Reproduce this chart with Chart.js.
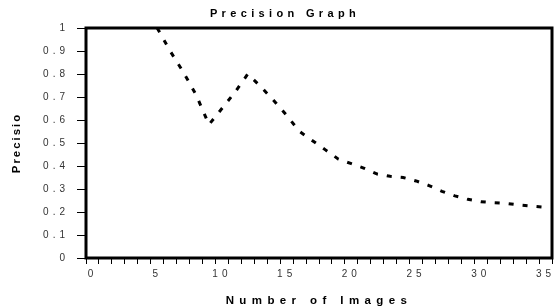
<!DOCTYPE html>
<html><head><meta charset="utf-8">
<script src="https://cdn.jsdelivr.net/npm/chart.js@4.4.0/dist/chart.umd.min.js"></script>
<style>html,body{margin:0;padding:0;background:#fff;}#c{display:block;}</style>
</head><body>
<canvas id="c" width="555" height="308"></canvas>
<script>
const categories = ["0","1","2","3","4","5","6","7","8","9","10","11","12","13","14","15","16","17","18","19","20","21","22","23","24","25","26","27","28","29","30","31","32","33","34","35"];
const precision = [null,null,null,null,null,1.0,0.90,0.81,0.71,0.58,0.65,0.72,0.80,0.745,0.685,0.62,0.55,0.51,0.47,0.43,0.41,0.39,0.365,0.355,0.35,0.335,0.315,0.29,0.27,0.255,0.245,0.24,0.237,0.23,0.225,0.22];
const xTickLabels = ["0","5","10","15","20","25","30","35"];
const yTickLabels = ["0","0.1","0.2","0.3","0.4","0.5","0.6","0.7","0.8","0.9","1"];

// letter spacing per font (mimics the spaced-out look of the original)
(function(){
  const P = CanvasRenderingContext2D.prototype;
  const spacingFor = f => {
    if (f.indexOf('11.5px') >= 0) return '5.4px';   // x-axis title
    if (f.indexOf('11.4px') >= 0) return '2px';     // y-axis title
    if (f.indexOf('bold') >= 0) return '4.35px';    // chart title
    return '4px';                                   // tick labels
  };
  const fT = P.fillText, mT = P.measureText;
  P.fillText = function(){ try{ this.letterSpacing = spacingFor(this.font); }catch(e){} return fT.apply(this, arguments); };
  P.measureText = function(){ try{ this.letterSpacing = spacingFor(this.font); }catch(e){} return mT.apply(this, arguments); };
})();

const FONT = "'Liberation Sans', Arial, sans-serif";

const framePlugin = {
  id: 'frame',
  afterDraw(chart){
    const {ctx, chartArea:a} = chart;
    ctx.save();
    ctx.strokeStyle = '#000';
    ctx.lineWidth = 3;
    ctx.strokeRect(a.left, a.top, a.right - a.left, a.bottom - a.top);
    ctx.restore();
  }
};

new Chart(document.getElementById('c'), {
  type: 'line',
  data: {
    labels: categories,
    datasets: [{
      data: precision,
      borderColor: '#000',
      borderWidth: 3,
      borderDash: [5, 9],
      borderCapStyle: 'butt',
      pointRadius: 0,
      tension: 0,
      fill: false,
      spanGaps: false
    }]
  },
  options: {
    responsive: false,
    animation: false,
    devicePixelRatio: 1,
    layout: { padding: { left: 18, right: 3, top: 0, bottom: 0 } },
    plugins: {
      legend: { display: false },
      tooltip: { enabled: false },
      title: {
        display: true,
        text: 'Precision Graph',
        color: '#000',
        font: { family: FONT, size: 11, weight: 'bold', lineHeight: 1.2 },
        padding: { top: 7, bottom: 7.8 }
      }
    },
    scales: {
      x: {
        type: 'category',
        offset: true,
        grid: { offset: true, drawOnChartArea: false, drawTicks: true, tickLength: 6, color: '#000', lineWidth: 1 },
        border: { display: false },
        ticks: {
          autoSkip: false, maxRotation: 0, minRotation: 0, padding: 4,
          color: '#333', font: { family: FONT, size: 10 },
          callback: function(v, i){ const c = categories[i]; return xTickLabels.includes(c) ? c : ''; }
        },
        title: {
          display: true, text: 'Number of Images', color: '#000',
          font: { family: FONT, size: 11.5, weight: 'bold', lineHeight: 1.2 },
          padding: { top: 0, bottom: 0 }
        },
        afterFit: s => { s.height = 50; s.paddingLeft = 0; s.paddingRight = 0; }
      },
      y: {
        min: 0, max: 1,
        grid: { drawOnChartArea: false, drawTicks: true, tickLength: 9, color: '#000', lineWidth: 1 },
        border: { display: false },
        ticks: {
          stepSize: 0.1, padding: 8, color: '#333', font: { family: FONT, size: 10 },
          callback: function(v, i){ return yTickLabels[Math.round(v * 10)]; }
        },
        title: {
          display: true, text: 'Precisio', color: '#000',
          font: { family: FONT, size: 11.4, weight: 'bold', lineHeight: 1.2 },
          padding: { top: -7.8, bottom: 0 }
        },
        afterFit: s => { s.width = 68; }
      }
    }
  },
  plugins: [framePlugin]
});
</script>
</body></html>
